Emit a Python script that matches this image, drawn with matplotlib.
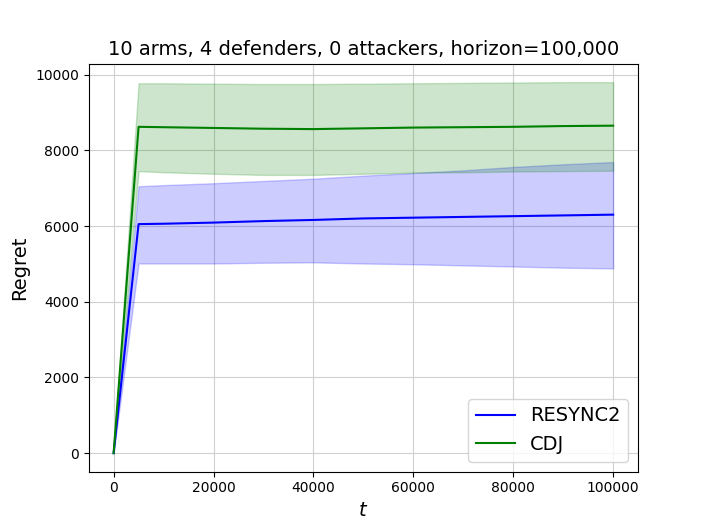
import matplotlib
matplotlib.use("Agg")
import matplotlib.pyplot as plt
import numpy as np

t = [0, 5000, 10000, 20000, 30000, 40000, 50000, 60000, 70000, 80000, 90000, 100000]

resync_mean = [0, 6050, 6060, 6090, 6130, 6160, 6200, 6220, 6240, 6260, 6280, 6300]
resync_low = [0, 5010, 5010, 5010, 5030, 5040, 5010, 4990, 4960, 4930, 4900, 4880]
resync_high = [0, 7050, 7080, 7130, 7190, 7250, 7330, 7400, 7470, 7560, 7630, 7690]

cdj_mean = [0, 8620, 8610, 8590, 8570, 8560, 8580, 8600, 8610, 8620, 8640, 8650]
cdj_low = [0, 7450, 7420, 7380, 7350, 7350, 7380, 7410, 7420, 7440, 7450, 7460]
cdj_high = [0, 9770, 9770, 9760, 9750, 9750, 9760, 9770, 9780, 9790, 9800, 9800]

title = "10 arms, 4 defenders, 0 attackers, horizon=100,000"

fig, ax = plt.subplots(figsize=(7.09, 5.30), dpi=100)
ax.grid(True, color="#d0d0d0", linewidth=0.8)
ax.set_axisbelow(True)

ax.plot(t, resync_mean, color="blue", label="RESYNC2")
ax.fill_between(t, resync_low, resync_high, color="blue", alpha=0.2)
ax.plot(t, cdj_mean, color="green", label="CDJ")
ax.fill_between(t, cdj_low, cdj_high, color="green", alpha=0.2)

ax.set_title(title, fontsize=14)
ax.set_xlabel("$t$", fontsize=14)
ax.set_ylabel("Regret", fontsize=14)
ax.legend(loc="lower right", fontsize=14)

fig.savefig("out.png", dpi=100)
